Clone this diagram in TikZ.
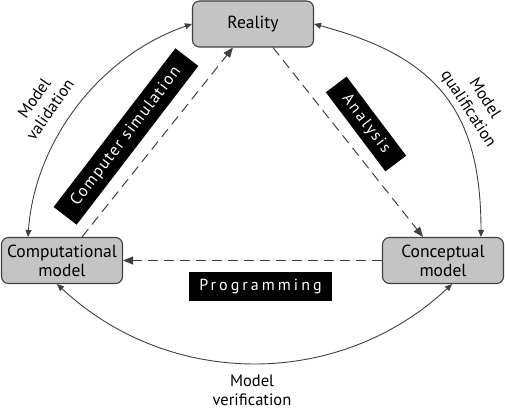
\documentclass[tikz,border=0pt]{standalone}
\usepackage{fontspec}
\setmainfont{PT Sans}
\usetikzlibrary{arrows.meta}
\definecolor{boxfill}{RGB}{196,196,196}
\definecolor{ln}{RGB}{64,64,64}
\tikzset{
 modelbox/.style={draw=ln, line width=1.1pt, fill=boxfill, rounded corners=7pt, minimum width=121pt, minimum height=46pt, align=center, font=\fontsize{17.5}{19}\selectfont, inner sep=0pt},
 blacklabel/.style={fill=black, text=white, inner sep=0pt},
 dasharrow/.style={draw=ln, line width=1pt, dash pattern=on 10pt off 6pt, -{Triangle[length=10pt,width=8pt]}},
 solidarrow/.style={draw=ln, line width=0.9pt, {Triangle[length=7pt,width=6pt]}-{Triangle[length=7pt,width=6pt]}},
 sidelabel/.style={align=center, font=\fontsize{16.5}{19.5}\selectfont, inner sep=0pt}
}
\begin{document}
\begin{tikzpicture}[x=1pt,y=1pt]
\useasboundingbox (0,0) rectangle (505,-411);
\node[modelbox] (real) at (253,-24) {Reality};
\node[modelbox] (comp) at (62,-260.5) {Computational\\model};
\node[modelbox] (conc) at (443,-260.5) {Conceptual\\model};

\node[blacklabel, minimum width=143pt, minimum height=29pt, font=\fontsize{16}{18}\selectfont\addfontfeature{LetterSpace=19}] (prog) at (260.5,-286.5) {Programming};
\node[blacklabel, rotate=52.5, minimum width=200pt, minimum height=29pt, font=\fontsize{16.5}{18}\selectfont\addfontfeature{LetterSpace=8}] (sim) at (126,-136.5) {Computer simulation};
\node[blacklabel, rotate=-53, minimum width=99pt, minimum height=26pt, font=\fontsize{16}{18}\selectfont\addfontfeature{LetterSpace=12}] (ana) at (366,-124) {Analysis};

\draw[dasharrow] ([xshift=20pt]comp.north) -- ([xshift=-20pt]real.south);
\draw[dasharrow] ([xshift=20pt]real.south) -- ([xshift=-20pt]conc.north);
\draw[dasharrow] (conc.west) -- (comp.east);

\draw[solidarrow] (real.west) to[out=199, in=86, looseness=0.92] ([xshift=-34pt]comp.north);
\draw[solidarrow] (real.east) to[out=-15, in=90, looseness=1.2] ([xshift=38pt]conc.north);
\draw[solidarrow] ([xshift=-5pt]comp.south) to[out=-43, in=-137] ([xshift=9pt]conc.south);

\node[sidelabel, rotate=55] (valid) at (42,-104) {Model\\validation};
\node[sidelabel, rotate=-57] (qual) at (476,-104) {Model\\qualification};
\node[sidelabel, font=\fontsize{16.5}{19}\selectfont] (verif) at (252,-390) {Model\\verification};
\end{tikzpicture}
\end{document}
